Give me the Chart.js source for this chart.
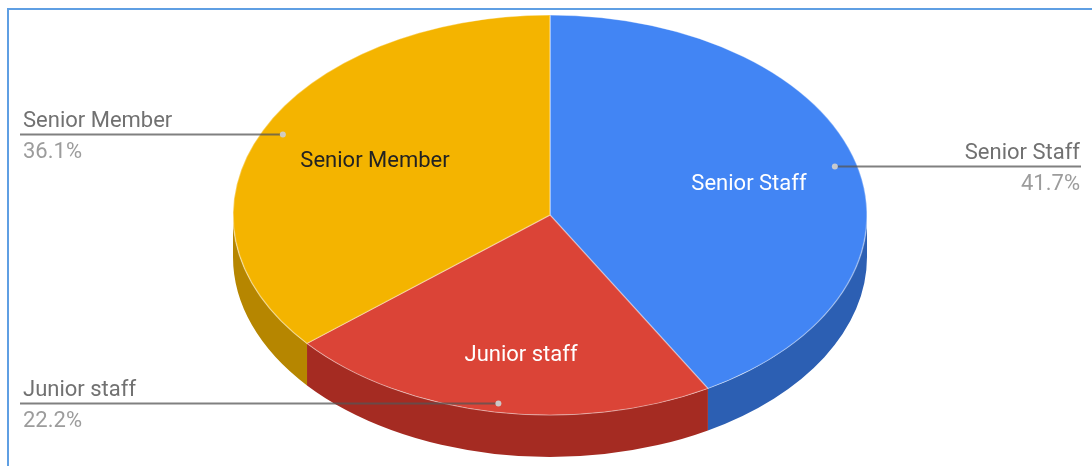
<!DOCTYPE html>
<html>
<head>
<meta charset="utf-8">
<script src="https://cdn.jsdelivr.net/npm/chart.js@4.4.1/dist/chart.umd.min.js"></script>
<style>
  body { margin: 0; background: #fff; overflow: hidden; }
  #frame {
    position: absolute; left: 7px; top: 8px; right: -10px; bottom: -10px;
    border-top: 2px solid #5f9fe3; border-left: 2px solid #5f9fe3;
  }
  #pie { position: absolute; left: 0; top: 0; }
</style>
</head>
<body>
<div id="frame"></div>
<canvas id="pie" width="1092" height="466"></canvas>
<script>
const labels = ["Senior Staff", "Junior staff", "Senior Member"];
const shares = [41.7, 22.2, 36.1];
const topColors = ["#4285f4", "#db4437", "#f4b400"];
const sideColors = ["#2c5fb3", "#a52b22", "#b68600"];
const insideColors = ["#ffffff", "#ffffff", "#222222"];

// flattened disc: horizontal / vertical radius and thickness of the rim
const RX = 317;
const RY = 200;
const DEPTH = 42;

const tilt = {
  id: "tilt",
  beforeDatasetsDraw(chart) {
    const ctx = chart.ctx;
    const arcs = chart.getDatasetMeta(0).data;
    const c = arcs[0];

    // rim: only the front half (angles 0..PI) can be seen
    arcs.forEach((arc, i) => {
      const a = Math.max(arc.startAngle, 0);
      const b = Math.min(arc.endAngle, Math.PI);
      if (b <= a) return;
      ctx.beginPath();
      ctx.ellipse(c.x, c.y + DEPTH, RX, RY, 0, a, b);
      ctx.ellipse(c.x, c.y, RX, RY, 0, b, a, true);
      ctx.closePath();
      ctx.fillStyle = sideColors[i];
      ctx.fill();
    });

    // thin light edge where the top face meets the rim
    ctx.strokeStyle = "rgba(255,255,255,0.25)";
    ctx.lineWidth = 1;
    ctx.beginPath();
    ctx.ellipse(c.x, c.y, RX, RY, 0, 0, Math.PI);
    ctx.stroke();

    // top face is drawn by chart.js itself, squashed into the ellipse
    ctx.save();
    ctx.translate(c.x, c.y);
    ctx.scale(RX / c.outerRadius, RY / c.outerRadius);
    ctx.translate(-c.x, -c.y);
  },
  afterDatasetsDraw(chart) {
    const ctx = chart.ctx;
    ctx.restore();

    const arcs = chart.getDatasetMeta(0).data;
    const total = shares.reduce((a, b) => a + b, 0);
    const W = chart.width;

    arcs.forEach((arc, i) => {
      const mid = (arc.startAngle + arc.endAngle) / 2;
      const cs = Math.cos(mid);
      const sn = Math.sin(mid);

      // slice name inside the slice
      ctx.font = "22px Roboto";
      ctx.textAlign = "center";
      ctx.textBaseline = "middle";
      ctx.fillStyle = insideColors[i];
      ctx.fillText(labels[i], arc.x + cs * RX * 0.63 + 6, arc.y + sn * RY * 0.69 + 5);

      // leader line out to the side
      const px = arc.x + cs * RX * 0.93;
      const py = Math.round(arc.y + sn * RY * 0.955) + 0.5;
      const left = cs < 0;
      const endX = left ? 20 : W - 11;

      ctx.strokeStyle = "rgba(85,85,85,0.75)";
      ctx.lineWidth = 2;
      ctx.beginPath();
      ctx.moveTo(px, py);
      ctx.lineTo(endX, py);
      ctx.stroke();

      ctx.fillStyle = "rgba(205,205,205,0.95)";
      ctx.beginPath();
      ctx.arc(px, py, 3, 0, Math.PI * 2);
      ctx.fill();

      const tx = left ? 23 : W - 12;
      ctx.textAlign = left ? "left" : "right";
      ctx.textBaseline = "alphabetic";
      ctx.fillStyle = "#717171";
      ctx.fillText(labels[i], tx, py - 7.5);
      ctx.fillStyle = "#9c9c9c";
      ctx.fillText((shares[i] / total * 100).toFixed(1) + "%", tx, py + 23);
    });
  }
};

new Chart(document.getElementById("pie"), {
  type: "pie",
  data: {
    labels: labels,
    datasets: [{
      data: shares,
      backgroundColor: topColors,
      borderColor: "rgba(255,255,255,0.35)",
      borderWidth: 1,
      clip: false
    }]
  },
  options: {
    responsive: false,
    devicePixelRatio: 1,
    animation: false,
    layout: { padding: { top: 15, bottom: 51, left: 8, right: 0 } },
    plugins: {
      legend: { display: false },
      tooltip: { enabled: false }
    }
  },
  plugins: [tilt]
});
</script>
</body>
</html>
